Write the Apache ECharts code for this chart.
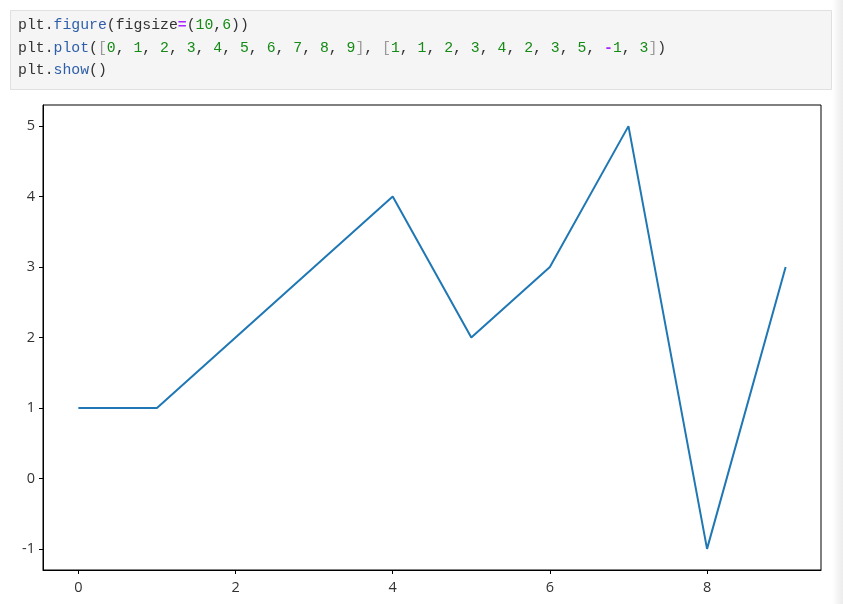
<!DOCTYPE html>
<html>
<head>
<meta charset="utf-8">
<script src="https://cdn.jsdelivr.net/npm/echarts@6/dist/echarts.min.js"></script>
<style>
html,body{margin:0;padding:0;background:#fff;}
#chart{width:843px;height:604px;}
</style>
</head>
<body>
<div id="chart"></div>
<script>
// ---- data ----
var xValues = [0, 1, 2, 3, 4, 5, 6, 7, 8, 9];
var yValues = [1, 1, 2, 3, 4, 2, 3, 5, -1, 3];
var xTicks = [0, 2, 4, 6, 8];
var yTicks = [-1, 0, 1, 2, 3, 4, 5];
var codeLines = [
  'plt.figure(figsize=(10,6))',
  'plt.plot([0, 1, 2, 3, 4, 5, 6, 7, 8, 9], [1, 1, 2, 3, 4, 2, 3, 5, -1, 3])',
  'plt.show()'
];

// ---- syntax colouring of the code cell ----
function tokenize(line) {
  var out = [];
  var re = /(plt)|(\.)|(figure|plot|show)|(figsize)|(=)|(-)|(\d+)|([()])|([\[\]])|(,\s*)/g;
  var m, last = 0;
  while ((m = re.exec(line)) !== null) {
    if (m.index > last) out.push('{t|' + line.slice(last, m.index) + '}');
    var s = m[0], st = 't';
    if (m[3]) st = 'p';
    else if (m[5] || m[6]) st = 'o';
    else if (m[7]) st = 'n';
    else if (m[9]) st = 'b';
    out.push('{' + st + '|' + s + '}');
    last = re.lastIndex;
  }
  if (last < line.length) out.push('{t|' + line.slice(last) + '}');
  return out.join('');
}
var codeFont = '"Liberation Mono", "DejaVu Sans Mono", monospace';
function rs(c, bold) {
  return {fill: c, fontFamily: codeFont, fontSize: 14.8, fontWeight: bold ? 'bold' : 'normal'};
}
var rich = {
  t: rs('#333333'),
  p: rs('#2f5fa8'),
  o: rs('#aa22ff', true),
  n: rs('#168a16'),
  b: rs('#999999')
};
var graphics = [
  {type: 'rect', left: 832, top: 0, z: 0,
   shape: {width: 11, height: 604},
   style: {fill: new echarts.graphic.LinearGradient(0, 0, 1, 0, [
     {offset: 0, color: '#ffffff'}, {offset: 1, color: '#ececec'}])}},
  {type: 'rect', left: 10, top: 10, z: 1,
   shape: {width: 821, height: 79},
   style: {fill: '#f5f5f5', stroke: '#e0e0e0', lineWidth: 1}}
];
codeLines.forEach(function (ln, i) {
  graphics.push({
    type: 'text', left: 18, top: 18 + i * 22.5, z: 2,
    style: {text: tokenize(ln), rich: rich, fill: '#333333', fontFamily: codeFont, fontSize: 14.8, verticalAlign: 'top'}
  });
});

var chart = echarts.init(document.getElementById('chart'), null, {renderer: 'canvas'});
var labelFont = {color: '#333333', fontSize: 14.5, fontFamily: '"Open Sans", "DejaVu Sans", sans-serif'};
chart.setOption({
  animation: false,
  backgroundColor: '#ffffff',
  graphic: graphics,
  grid: {left: 43, top: 105, width: 778, height: 465, show: true,
         borderColor: '#000000', borderWidth: 1, backgroundColor: '#ffffff'},
  xAxis: {
    type: 'value', min: -0.45, max: 9.45,
    splitLine: {show: false},
    axisLine: {show: true, onZero: false, lineStyle: {color: '#000000', width: 1}},
    axisTick: {show: true, inside: false, length: 4, customValues: xTicks, lineStyle: {color: '#000000'}},
    axisLabel: Object.assign({margin: 10, customValues: xTicks, formatter: function (v) { return String(v); }}, labelFont)
  },
  yAxis: {
    type: 'value', min: -1.3, max: 5.3,
    splitLine: {show: false},
    axisLine: {show: true, onZero: false, lineStyle: {color: '#000000', width: 1}},
    axisTick: {show: true, inside: false, length: 4, customValues: yTicks, lineStyle: {color: '#000000'}},
    axisLabel: Object.assign({margin: 8, customValues: yTicks, formatter: function (v) { return String(v); }}, labelFont)
  },
  series: [{
    type: 'line',
    data: xValues.map(function (x, i) { return [x, yValues[i]]; }),
    showSymbol: false,
    symbol: 'none',
    lineStyle: {color: '#1f77b4', width: 2},
    itemStyle: {color: '#1f77b4'}
  }]
});
</script>
</body>
</html>
